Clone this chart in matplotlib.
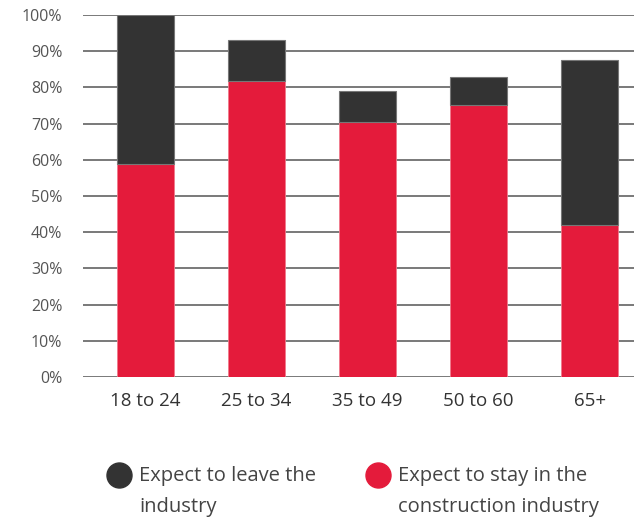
import matplotlib.pyplot as plt
from matplotlib.lines import Line2D

plt.rcParams['font.family'] = ['Open Sans', 'DejaVu Sans']

# data (percent)
groups = ['18 to 24', '25 to 34', '35 to 49', '50 to 60', '65+']
stay = [58.8, 81.7, 70.4, 75.1, 42.0]
leave = [41.2, 11.3, 8.6, 7.7, 45.5]
series_names = ['Expect to leave the\nindustry',
                'Expect to stay in the\nconstruction industry']
yticks = [0, 10, 20, 30, 40, 50, 60, 70, 80, 90, 100]

red = '#e41b3b'
dark = '#333333'

fig = plt.figure(figsize=(6.34, 5.19), dpi=100)
ax = fig.add_axes([0.131, 0.2736, 0.869, 0.6975])

x = range(len(groups))
ax.bar(x, stay, width=0.51, color=red, edgecolor='#f07a8c', linewidth=0.6, zorder=3)
ax.bar(x, leave, bottom=stay, width=0.51, color=dark, edgecolor='#777777',
       linewidth=0.8, zorder=3)

ax.set_ylim(0, 100)
ax.set_xlim(-0.563, 4.40)
ax.set_yticks(yticks)
ax.set_yticklabels([f'{v}%' for v in yticks])
ax.yaxis.grid(True, color='#555555', linewidth=1.1, zorder=0)
ax.set_axisbelow(True)
for s in ax.spines.values():
    s.set_visible(False)
ax.tick_params(axis='y', length=0, pad=15, labelsize=11.5, labelcolor='#555555')
ax.tick_params(axis='x', length=0, pad=11, labelsize=13.5, labelcolor='#333333')
ax.set_xticks(list(x))
ax.set_xticklabels(groups)

# legend drawn by hand to match the two-column layout
legend_pos = [(119 / 634, 139 / 634), (378 / 634, 398 / 634)]
for (mx, tx), col, name in zip(legend_pos, [dark, red], series_names):
    fig.add_artist(Line2D([mx], [1 - 475 / 519], marker='o', markersize=18,
                          color=col, linestyle='none', transform=fig.transFigure))
    fig.text(tx, 1 - 466 / 519, name, fontsize=14.5, color='#444444',
             va='top', ha='left', linespacing=1.75)

fig.savefig('out.png', dpi=100)
